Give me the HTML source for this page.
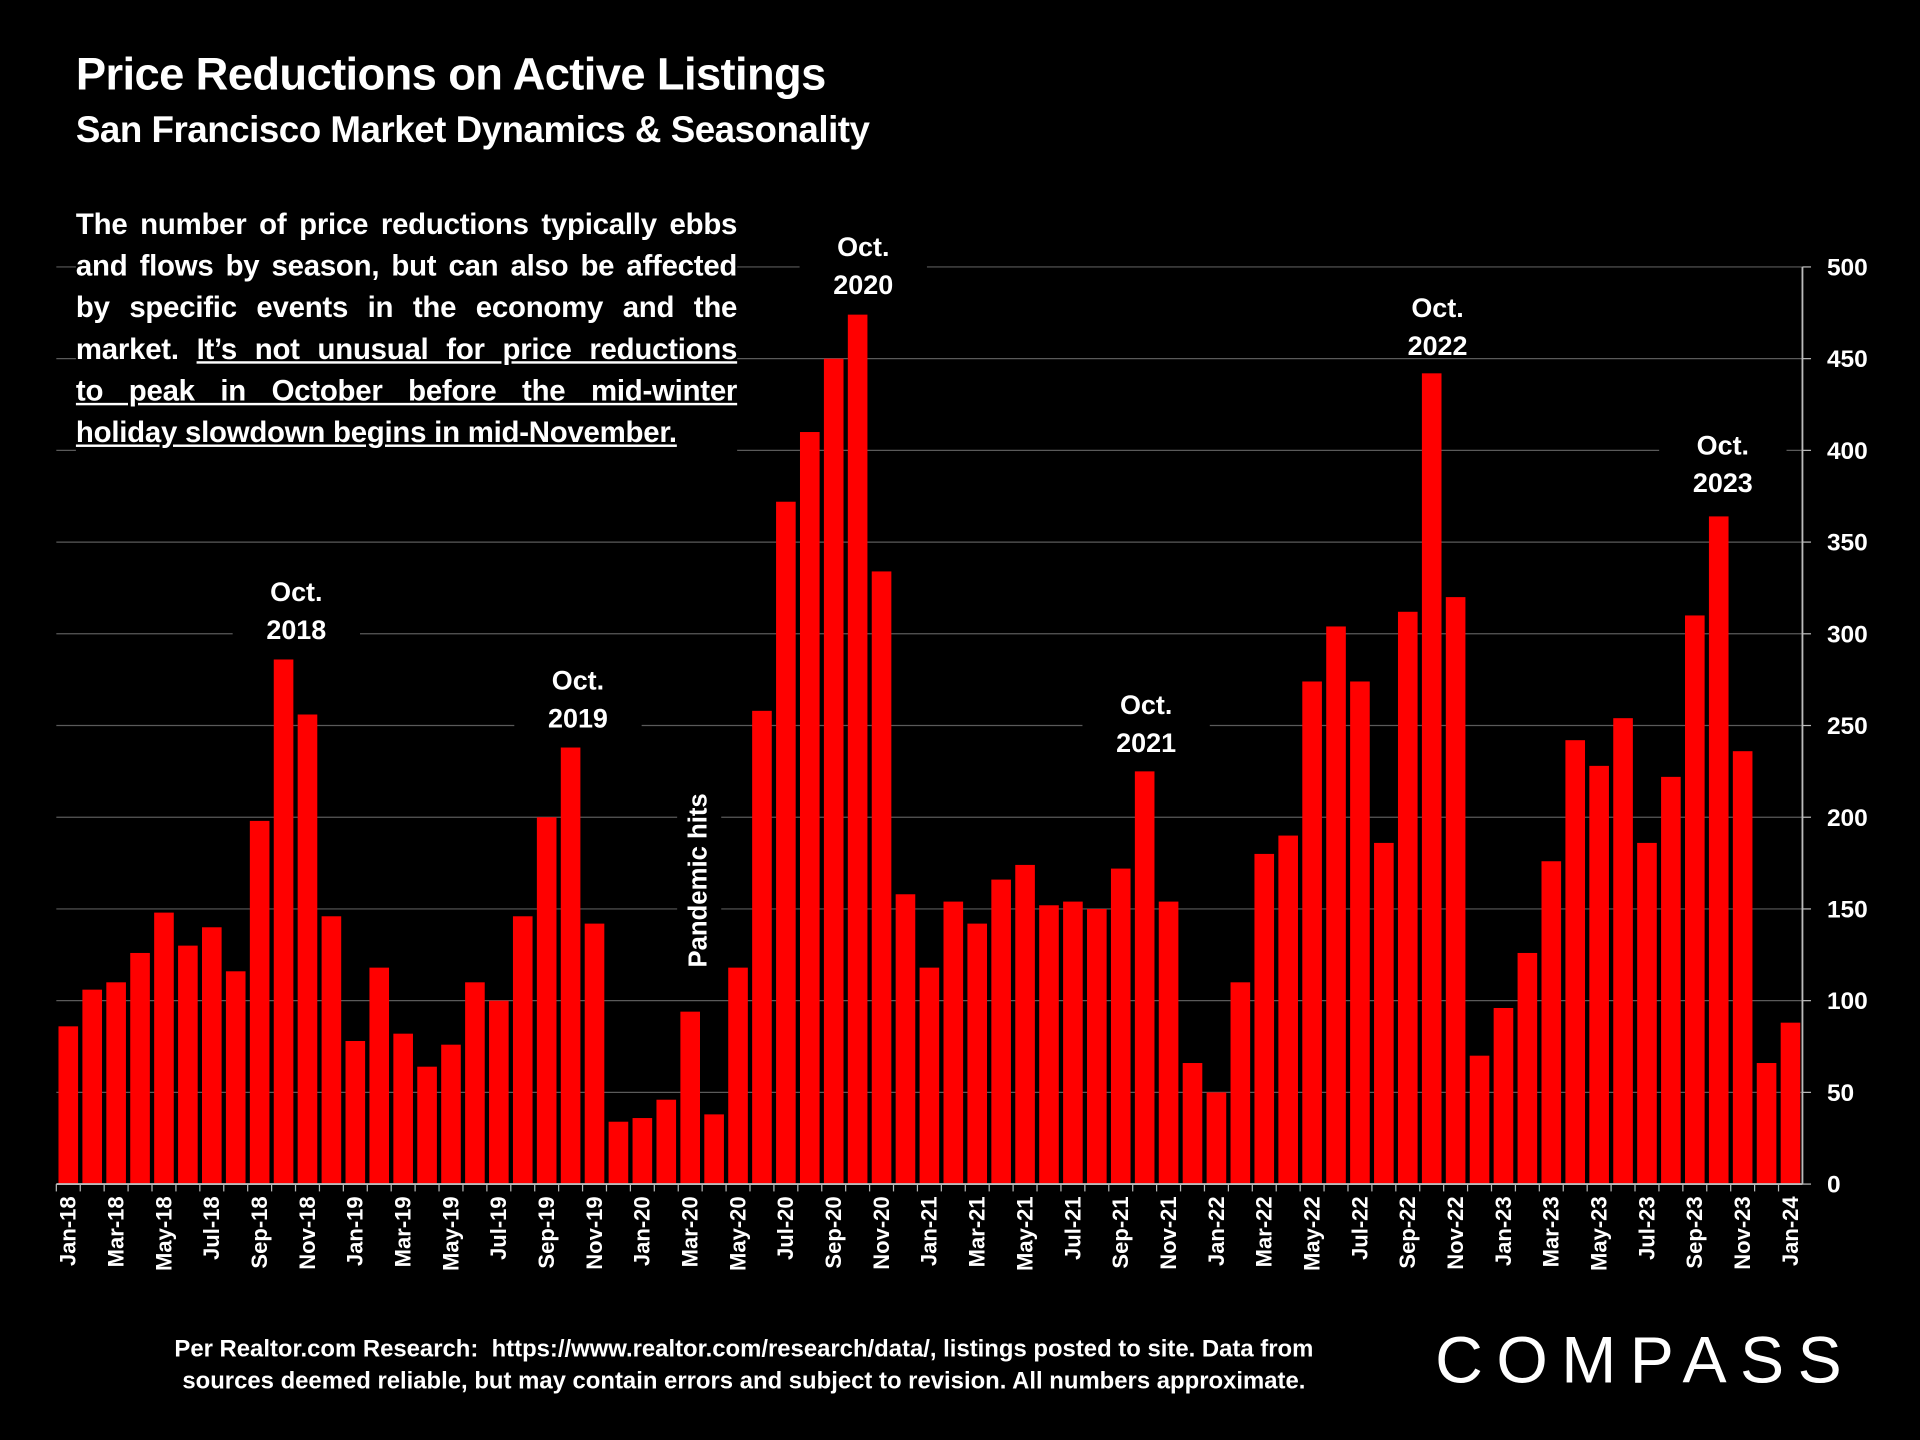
<!DOCTYPE html>
<html><head><meta charset="utf-8"><style>
html,body{margin:0;padding:0;background:#000;width:1920px;height:1440px;overflow:hidden}
#stage{position:absolute;left:0;top:0;width:1568px;height:1176px;transform:scale(1.22449);transform-origin:0 0;font-family:"Liberation Sans",sans-serif;color:#fff;font-weight:bold}
.abs{position:absolute}
.para div{text-align:justify;text-align-last:justify;white-space:nowrap;height:34px}
</style></head><body>
<div id="stage">
<div class="abs" style="left:62px;top:40px;font-size:37px;letter-spacing:-0.5px">Price Reductions on Active Listings</div>
<div class="abs" style="left:62px;top:90px;font-size:30px;letter-spacing:-0.4px">San Francisco Market Dynamics &amp; Seasonality</div>
<svg class="abs" style="left:0;top:0" width="1568" height="1176" id="chart"></svg>
<div class="abs para" style="left:62px;top:170px;width:540px;font-size:24px;letter-spacing:-0.2px">
<div style="background:#000">The number of price reductions typically ebbs</div>
<div style="background:#000">and flows by season, but can also be affected</div>
<div style="background:#000">by specific events in the economy and the</div>
<div style="background:#000">market. <u>It’s not unusual for price reductions</u></div>
<div style="background:#000"><u>to peak in October before the mid-winter</u></div>
<div style="text-align-last:left;background:#000;width:540px"><u>holiday slowdown begins in mid-November.</u></div>
</div>
<div class="abs" style="left:85px;top:1089px;width:1045px;text-align:center;font-size:19.5px;line-height:26px">Per Realtor.com Research:&nbsp; https://www.realtor.com/research/data/, listings posted to site. Data from<br>sources deemed reliable, but may contain errors and subject to revision. All numbers approximate.</div>
<div class="abs" style="left:1172px;top:1080px;font-size:54px;font-weight:normal;letter-spacing:11px">COMPASS</div>
</div>
<script>
const categories=[];
const yrs=['18','19','20','21','22','23'];
const mons=['Jan','Feb','Mar','Apr','May','Jun','Jul','Aug','Sep','Oct','Nov','Dec'];
yrs.forEach(y=>mons.forEach(m=>categories.push(m+'-'+y)));categories.push('Jan-24');
const values=[86,106,110,126,148,130,140,116,198,286,256,146,
78,118,82,64,76,110,100,146,200,238,142,34,
36,46,94,38,118,258,372,410,450,474,334,158,
118,154,142,166,174,152,154,150,172,225,154,66,
50,110,180,190,274,304,274,186,312,442,320,70,
96,126,176,242,228,254,186,222,310,364,236,66,88];
const yTicks=[0,50,100,150,200,250,300,350,400,450,500];
const annotations=[['Oct.','2018',242,483],['Oct.','2019',472,555],['Oct.','2020',705,201],['Oct.','2021',936,575],['Oct.','2022',1174,251],['Oct.','2023',1407,363]];
const NS='http://www.w3.org/2000/svg';
const svg=document.getElementById('chart');
const x0=46,x1=1472,yb=967,yt=218;
const step=(x1-x0)/categories.length;
const X=i=>x0+step*(i+0.5);
const Y=v=>yb-(v/500)*(yb-yt);
function mk(t,a){const e=document.createElementNS(NS,t);for(const k in a)e.setAttribute(k,a[k]);svg.appendChild(e);return e;}
yTicks.forEach(v=>{
 if(v>0){const g=mk('line',{x1:x0,x2:x1,y1:Y(v),y2:Y(v),stroke:'#5a5a5a','stroke-width':1});
 
 }
 const tk=mk('line',{x1:x1,x2:x1+7,y1:Y(v),y2:Y(v),stroke:'#bbb','stroke-width':1});
 
 
 const t=mk('text',{x:1492,y:Y(v)+7,fill:'#fff','font-size':20,'font-weight':'bold','font-family':'Liberation Sans, sans-serif'});
 t.textContent=v;
 
 
});
annotations.forEach(a=>{
 const r=mk('rect',{x:a[2]-52,y:a[3]-25,width:104,height:64,fill:'#000'});
 
 
});
const pb=mk('rect',{x:553,y:600,width:36,height:200,fill:'#000'});


values.forEach((v,i)=>{
 const w=step*0.82;
 const b=mk('rect',{x:X(i)-w/2,y:Y(v),width:w,height:yb-Y(v),fill:'#ff0000'});
 
 
 if(i%2===0){
  const t=mk('text',{x:0,y:0,fill:'#fff','font-size':18,'font-weight':'bold','font-family':'Liberation Sans, sans-serif','text-anchor':'end',transform:`translate(${X(i)+6},977) rotate(-90)`});
  t.textContent=categories[i];
  
  
 }
 const tk=mk('line',{x1:x0+step*i,x2:x0+step*i,y1:yb,y2:yb+6,stroke:'#bbb','stroke-width':1});
 
 
});
const ax=mk('line',{x1:x0,x2:x1,y1:yb,y2:yb,stroke:'#bbb','stroke-width':1.5});


const ay=mk('line',{x1:x1,x2:x1,y1:yt,y2:yb,stroke:'#bbb','stroke-width':1.5});


annotations.forEach(a=>{
 [a[0],a[1]].forEach((s,j)=>{
  const t=mk('text',{x:a[2],y:a[3]+8+j*31,fill:'#fff','font-size':22,'font-weight':'bold','font-family':'Liberation Sans, sans-serif','text-anchor':'middle'});
  t.textContent=s;
  
  
 });
});
const ph=mk('text',{x:0,y:0,fill:'#fff','font-size':21,'font-weight':'bold','font-family':'Liberation Sans, sans-serif','text-anchor':'middle',transform:'translate(577,719) rotate(-90)'});
ph.textContent='Pandemic hits';


</script>
</body></html>
